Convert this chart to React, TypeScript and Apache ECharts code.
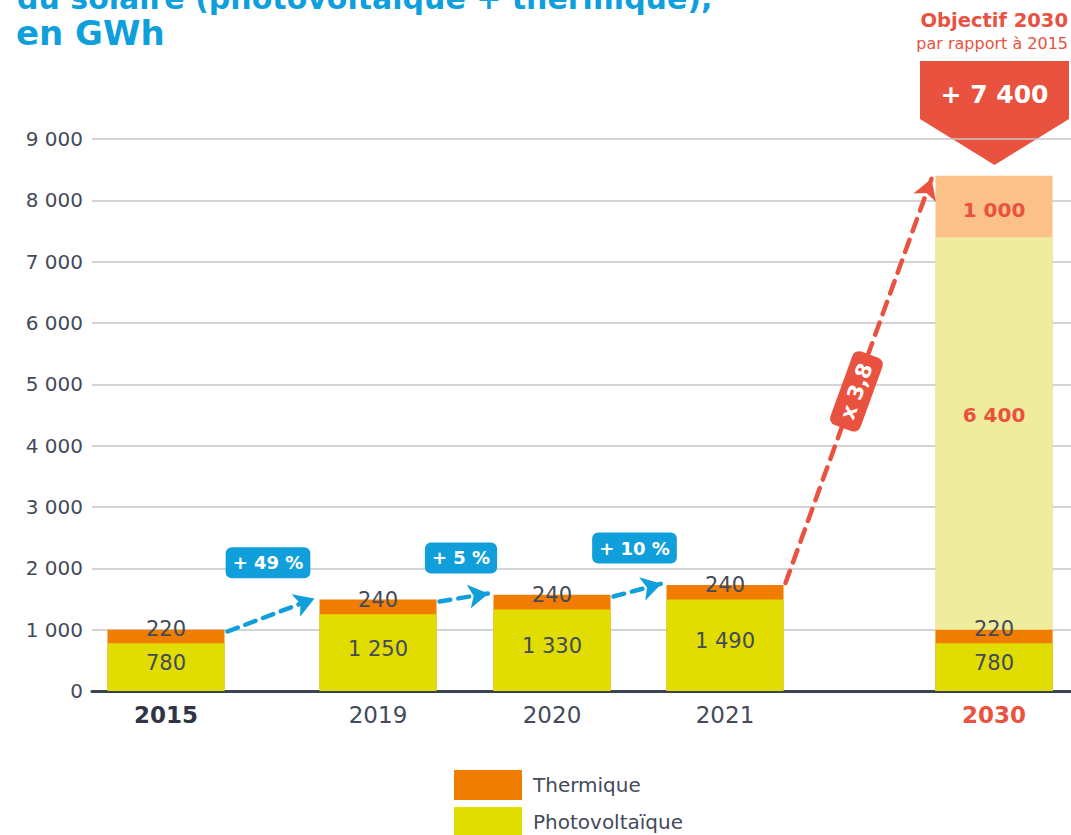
import React, { useEffect, useRef } from 'react';
import * as echarts from 'echarts';

// ---------- data ----------
const years = ['2015', '2019', '2020', '2021', '2030'];
const photovoltaique = [780, 1250, 1330, 1490, 780];
const thermique = [220, 240, 240, 240, 220];
const objectifPhotovoltaique = [0, 0, 0, 0, 6400];
const objectifThermique = [0, 0, 0, 0, 1000];
const growthLabels = ['+ 49 %', '+ 5 %', '+ 10 %'];
const multiplierLabel = 'x 3,8';
const objectifTitle = 'Objectif 2030';
const objectifSubtitle = 'par rapport à 2015';
const objectifGain = '+ 7 400';
const titleLine1 = 'du solaire (photovoltaïque + thermique),';
const titleLine2 = 'en GWh';

// ---------- layout ----------
const slotX = [74, 286, 460, 633, 902];
const X_MAX = 979;
const BAR_W = 117;

const BLUE = '#119fdc';
const RED = '#e9523f';
const TEXT = '#434a5a';
const FONT = 'DejaVu Sans';

const fmt = (n: number) => String(n).replace(/\B(?=(\d{3})+(?!\d))/g, ' ');

const hiddenItem = { color: 'rgba(0,0,0,0)', opacity: 1 };

export default function App() {
  const ref = useRef<HTMLDivElement>(null);

  useEffect(() => {
    if (!ref.current) return;
    const chart = echarts.init(ref.current, null, { renderer: 'svg' });

    const base = photovoltaique.map((v, i) => v + thermique[i]);
    const objPvTop = base.map((v, i) => v + objectifPhotovoltaique[i]);
    const objThTop = objPvTop.map((v, i) => v + objectifThermique[i]);
    const objIdx = years.map((_, i) => i).filter((i) => objectifPhotovoltaique[i] > 0);

    const barCommon = {
      type: 'bar',
      barWidth: BAR_W,
      barGap: '-100%',
      silent: true,
    };

    const labelSeries = (name: string, data: any[], label: any) => ({
      name,
      type: 'scatter',
      symbolSize: 1,
      itemStyle: hiddenItem,
      silent: true,
      z: 10,
      data,
      label: { show: true, position: 'inside', fontFamily: FONT, ...label },
    });

    const blueArrows = [0, 1, 2].map((i) => [
      { coord: [slotX[i] + BAR_W / 2 + 3, base[i] - 30] },
      { coord: [slotX[i + 1] - BAR_W / 2 - 5, base[i + 1] + 20] },
    ]);
    const blueBadges = [0, 1, 2].map((i) => ({
      value: [
        (slotX[i] + BAR_W / 2 + 3 + slotX[i + 1] - BAR_W / 2 - 5) / 2 - 3,
        Math.max(base[i], base[i + 1]) + 600,
      ],
      label: { formatter: growthLabels[i] },
    }));
    const redStart = [slotX[3] + BAR_W / 2 + 2, base[3] + 30];
    const redEnd = [slotX[4] - BAR_W / 2 - 4, objThTop[4] - 50];

    chart.setOption({
      animation: false,
      grid: { left: 92, right: 0, top: 139, bottom: 144, containLabel: false },
      xAxis: {
        type: 'value',
        min: 0,
        max: X_MAX,
        splitLine: { show: false },
        axisTick: { show: false },
        axisLine: { show: true, onZero: true, lineStyle: { color: '#3b4252', width: 3 } },
        axisLabel: {
          customValues: slotX,
          margin: 12,
          formatter: (v: number) => {
            const i = slotX.indexOf(v);
            if (i < 0) return '';
            const st = i === 0 ? 'first' : i === years.length - 1 ? 'target' : 'normal';
            return `{${st}|${years[i]}}`;
          },
          rich: {
            first: { fontFamily: FONT, fontSize: 23, fontWeight: 'bold', color: '#2f3546' },
            normal: { fontFamily: FONT, fontSize: 23, color: TEXT },
            target: { fontFamily: FONT, fontSize: 23, fontWeight: 'bold', color: RED },
          },
        },
      },
      yAxis: {
        type: 'value',
        min: 0,
        max: 9000,
        interval: 1000,
        axisLine: { show: false },
        axisTick: { show: false },
        splitLine: { lineStyle: { color: '#c4c4cb', width: 1.5 } },
        axisLabel: {
          margin: 9,
          fontFamily: FONT,
          fontSize: 20,
          color: TEXT,
          formatter: (v: number) => fmt(v),
        },
      },
      legend: {
        data: ['Thermique', 'Photovoltaïque'],
        orient: 'vertical',
        left: 454,
        top: 770,
        height: 120,
        padding: 0,
        itemWidth: 68,
        itemHeight: 30,
        itemGap: 7,
        icon: 'rect',
        selectedMode: false,
        textStyle: { fontFamily: FONT, fontSize: 20, color: TEXT, padding: [0, 0, 0, 6] },
      },
      series: [
        {
          ...barCommon,
          name: 'Objectif thermique',
          itemStyle: { color: '#fbc189' },
          data: objIdx.map((i) => [slotX[i], objThTop[i]]),
        },
        {
          ...barCommon,
          name: 'Objectif photovoltaïque',
          itemStyle: { color: '#f0ec9d' },
          data: objIdx.map((i) => [slotX[i], objPvTop[i]]),
        },
        {
          ...barCommon,
          name: 'Thermique',
          itemStyle: { color: '#f07c00' },
          data: years.map((_, i) => [slotX[i], base[i]]),
        },
        {
          ...barCommon,
          name: 'Photovoltaïque',
          itemStyle: { color: '#e1dd00' },
          data: years.map((_, i) => [slotX[i], photovoltaique[i]]),
        },
        labelSeries(
          'pvLabels',
          years.map((_, i) => [slotX[i], photovoltaique[i] / 2]),
          {
            offset: [0, -4],
            fontSize: 21,
            color: TEXT,
            formatter: (p: any) => fmt(photovoltaique[p.dataIndex]),
          }
        ),
        labelSeries(
          'thLabels',
          years.map((_, i) => [slotX[i], photovoltaique[i] + thermique[i] / 2]),
          {
            offset: [0, -7],
            fontSize: 21,
            color: TEXT,
            formatter: (p: any) => fmt(thermique[p.dataIndex]),
          }
        ),
        labelSeries(
          'objPvLabels',
          objIdx.map((i) => [slotX[i], base[i] + objectifPhotovoltaique[i] / 2]),
          {
            offset: [0, -18],
            fontSize: 20,
            fontWeight: 'bold',
            color: RED,
            formatter: (p: any) => fmt(objectifPhotovoltaique[objIdx[p.dataIndex]]),
          }
        ),
        labelSeries(
          'objThLabels',
          objIdx.map((i) => [slotX[i], objPvTop[i] + objectifThermique[i] / 2]),
          {
            offset: [0, 4],
            fontSize: 20,
            fontWeight: 'bold',
            color: RED,
            formatter: (p: any) => fmt(objectifThermique[objIdx[p.dataIndex]]),
          }
        ),
        {
          name: 'blueAnnotations',
          type: 'scatter',
          symbolSize: 1,
          itemStyle: hiddenItem,
          silent: true,
          z: 12,
          data: blueBadges,
          label: {
            show: true,
            position: 'inside',
            fontFamily: FONT,
            fontSize: 18,
            fontWeight: 'bold',
            color: '#ffffff',
            backgroundColor: BLUE,
            borderRadius: 6,
            padding: [7, 7, 6, 7],
          },
          markLine: {
            silent: true,
            symbol: ['none', 'arrow'],
            symbolSize: [18, 20],
            label: { show: false },
            lineStyle: { color: BLUE, width: 4.5, type: [11, 8], cap: 'round', opacity: 1 },
            emphasis: { disabled: true },
            data: blueArrows,
          },
        },
        {
          name: 'redAnnotations',
          type: 'scatter',
          symbolSize: 1,
          itemStyle: hiddenItem,
          silent: true,
          z: 12,
          data: [
            {
              value: [(redStart[0] + redEnd[0]) / 2 - 2, (redStart[1] + redEnd[1]) / 2 - 170],
              label: { formatter: multiplierLabel },
            },
          ],
          label: {
            show: true,
            position: 'inside',
            rotate: 70,
            fontFamily: FONT,
            fontSize: 21,
            fontWeight: 'bold',
            color: '#ffffff',
            backgroundColor: RED,
            borderRadius: 7,
            padding: [6, 10, 5, 10],
          },
          markLine: {
            silent: true,
            symbol: ['none', 'arrow'],
            symbolSize: [18, 20],
            label: { show: false },
            lineStyle: { color: RED, width: 4.5, type: [13, 9], cap: 'round', opacity: 1 },
            emphasis: { disabled: true },
            data: [[{ coord: redStart }, { coord: redEnd }]],
          },
        },
      ],
      graphic: [
        {
          type: 'text',
          left: 17,
          top: -17,
          style: {
            text: titleLine1,
            fill: '#0f9fdc',
            font: `bold 30px "${FONT}"`,
          },
        },
        {
          type: 'text',
          left: 16,
          top: 16,
          style: {
            text: titleLine2,
            fill: '#0f9fdc',
            font: `bold 34px "${FONT}"`,
          },
        },
        {
          type: 'text',
          x: 1068,
          y: 20,
          style: {
            text: objectifTitle,
            fill: RED,
            font: `bold 19.5px "${FONT}"`,
            align: 'right',
            verticalAlign: 'middle',
          },
        },
        {
          type: 'text',
          x: 1068,
          y: 43,
          style: {
            text: objectifSubtitle,
            fill: RED,
            font: `16px "${FONT}"`,
            align: 'right',
            verticalAlign: 'middle',
          },
        },
        {
          type: 'polygon',
          shape: {
            points: [
              [920, 61],
              [1069, 61],
              [1069, 119],
              [994.5, 165],
              [920, 119],
            ],
          },
          style: { fill: RED },
        },
        {
          type: 'text',
          x: 994.5,
          y: 94,
          style: {
            text: objectifGain,
            fill: '#ffffff',
            font: `bold 25px "${FONT}"`,
            align: 'center',
            verticalAlign: 'middle',
          },
        },
      ],
    });

    return () => chart.dispose();
  }, []);

  return (
    <div
      ref={ref}
      style={{ position: 'fixed', left: 0, top: 0, width: 1071, height: 835, background: '#ffffff' }}
    />
  );
}
